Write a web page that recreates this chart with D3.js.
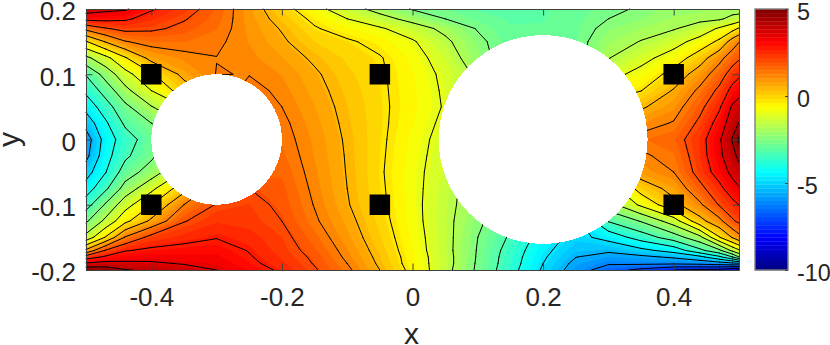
<!DOCTYPE html>
<html>
<head>
<meta charset="utf-8">
<script src="https://cdn.jsdelivr.net/npm/d3@7"></script>
<style>
  body { margin: 0; background: #fff; }
  text { font-family: "Liberation Sans", Arial, sans-serif; fill: #262626; }
</style>
</head>
<body>
<svg id="chart" width="830" height="345"></svg>
<script>
// --- Data ---
const xGrid = [-0.5, -0.47, -0.44, -0.4, -0.35, -0.3, -0.25, -0.2, -0.15, -0.1, -0.05, 0, 0.05, 0.1, 0.15, 0.2, 0.25, 0.3, 0.35, 0.4, 0.44, 0.47, 0.49, 0.5];
const yGrid = [0.2, 0.185, 0.17, 0.15, 0.125, 0.1, 0.075, 0.05, 0.025, 0, -0.025, -0.05, -0.075, -0.1, -0.125, -0.15, -0.17, -0.18, -0.19, -0.2];

// one row per yGrid entry, values under the two holes only keep the field continuous
const fieldRows = [
  [3.9, 3.7, 3.6, 2.82, 2.3, 1.68, 0.85, 0.05, -0.75, -1.43, -2, -2.55, -2.72, -3, -3.05, -3, -2.85, -2.65, -2.42, -2.15, -2.1, -2.05, -2.05, -2.1],
  [2.99, 2.97, 2.86, 2.47, 2.05, 1.6, 0.9, 0.25, -0.41, -1, -1.49, -1.99, -2.5, -2.8, -3, -2.98, -2.82, -2.5, -2.28, -2, -1.9, -1.85, -1.55, -1.42],
  [1.46, 1.94, 2.21, 2.12, 1.85, 1.5, 0.95, 0.45, -0.18, -0.58, -0.91, -1.4, -1.93, -2.55, -2.95, -2.95, -2.8, -2.31, -2.03, -1.8, -1.45, -0.9, -0.5, -0.16],
  [-0.31, 0.55, 1.21, 1.49, 1.5, 1.35, 1, 0.6, 0.08, -0.15, -0.47, -0.92, -1.6, -2.34, -2.9, -2.95, -2.75, -2.08, -1.72, -1.28, -0.72, -0.1, 0.84, 1.22],
  [-1.93, -1.22, -0.32, 0.73, 1.08, 1.24, 1.1, 0.8, 0.4, 0.02, -0.2, -0.71, -1.33, -2.21, -2.9, -3, -2.8, -1.78, -1.23, -0.67, 0.15, 1.03, 1.66, 1.91],
  [-3.2, -2.21, -1.27, -0.34, 0.69, 1.27, 1.23, 1, 0.59, 0.15, -0.16, -0.59, -1.16, -1.9, -2.9, -3, -3, -1.25, -0.77, 0.02, 0.87, 1.65, 2.35, 2.6],
  [-3.83, -2.94, -1.96, -1, 0.15, 0.9, 1.45, 1.12, 0.69, 0.25, -0.14, -0.56, -1.1, -2.1, -3, -3.3, -3, -0.55, -0.27, 0.56, 1.4, 2.17, 3, 3.25],
  [-4.5, -3.58, -2.68, -1.79, -1, 0.8, 1.6, 1.25, 0.79, 0.32, -0.12, -0.55, -1.06, -2.2, -3, -3.5, -3, 0, 0.4, 0.95, 1.8, 2.65, 3.6, 3.8],
  [-5.22, -4.12, -3.12, -2.5, -1.7, 0.9, 1.6, 1.37, 0.88, 0.37, -0.12, -0.6, -1.17, -2.2, -3, -3.7, -3.5, 0.5, 0.98, 1.3, 2.15, 3.05, 3.95, 4.28],
  [-5.9, -4.43, -3.6, -2.85, -2.5, 1, 1.6, 1.45, 0.96, 0.42, -0.13, -0.69, -1.28, -2.2, -3, -4, -4, 1, 1.45, 1.68, 2.45, 3.4, 4.3, 5.15],
  [-5.72, -4.28, -3.4, -2.65, -1.5, 1.2, 1.65, 1.55, 1, 0.45, -0.15, -0.74, -1.33, -2.2, -3, -3.7, -4.2, 0.7, 1.15, 1.45, 2.4, 3.34, 4, 4.45],
  [-5.08, -4.03, -2.89, -2.15, -0.9, 1.4, 1.7, 1.67, 1.06, 0.47, -0.17, -0.79, -1.37, -2.2, -3, -3.5, -4.3, 0.3, 0.85, 1.25, 2.27, 3.09, 3.7, 3.92],
  [-4.4, -3.39, -2.21, -1.2, 0.22, 1.75, 2, 1.8, 1.13, 0.5, -0.14, -0.78, -1.45, -2.2, -3, -3.6, -4.5, -1.44, 0.07, 0.75, 1.79, 2.54, 3.2, 3.44],
  [-3.58, -2.41, -1.3, -0.27, 1.25, 2.05, 2.2, 1.88, 1.22, 0.55, -0.1, -0.78, -1.51, -2.2, -3, -3.8, -4.7, -2.05, -0.86, 0.29, 1.12, 2.06, 2.5, 2.76],
  [-2.62, -1.56, -0.45, 0.65, 1.96, 2.39, 2.3, 2, 1.34, 0.7, -0.01, -0.75, -1.53, -2.35, -3.1, -4.1, -5, -3.2, -2.45, -1.37, 0.25, 1.04, 1.9, 2.15],
  [-1.49, -0.19, 1.31, 2.25, 2.53, 2.72, 2.55, 2.19, 1.58, 0.86, 0.11, -0.68, -1.5, -2.5, -3.35, -4.35, -5, -4.49, -3.66, -2.87, -1.97, -0.3, 0.55, 1],
  [0.65, 2.05, 2.7, 2.89, 2.98, 3.03, 2.72, 2.29, 1.78, 1.04, 0.24, -0.62, -1.5, -2.55, -3.55, -4.55, -5.26, -5.37, -4.95, -4.45, -3.44, -2.65, -1.55, -1.1],
  [2.37, 2.87, 3.16, 3.27, 3.21, 3.19, 2.8, 2.38, 1.89, 1.13, 0.32, -0.57, -1.46, -2.57, -3.62, -4.65, -5.48, -5.79, -5.66, -5.38, -4.94, -4.15, -3.25, -2.5],
  [3.6, 3.78, 3.66, 3.6, 3.45, 3.34, 2.9, 2.48, 1.96, 1.25, 0.39, -0.55, -1.45, -2.6, -3.65, -4.75, -5.7, -6.16, -6.1, -6.13, -6.02, -5.87, -5.7, -5.6],
  [4.8, 4.7, 4.3, 4.1, 3.8, 3.5, 3.09, 2.63, 2.07, 1.38, 0.5, -0.46, -1.5, -2.63, -3.72, -4.85, -5.86, -6.67, -7.2, -7.75, -7.9, -8, -8.3, -8.6]
];

const contourLevels = [-9.25, -8.5, -7.75, -7, -6.25, -5.5, -4.75, -4, -3.25, -2.5, -1.75, -1, -0.25, 0.5, 1.25, 2, 2.75, 3.5, 4.25, 5];

const holeX = [-0.3, 0.2];
const holeY = [0, 0];
const holeR = [0.1, 0.16];

const sensorX = [-0.4, -0.05, 0.4];
const sensorY = [0.1, -0.1];

const xTicks = [-0.4, -0.2, 0, 0.2, 0.4];
const yTicks = [-0.2, -0.1, 0, 0.1, 0.2];
const colorTicks = [-10, -5, 0, 5];
const colorDomain = [-10, 5];

// --- Scales ---
const svg = d3.select('#chart');
const plot = { left: 86, right: 739, top: 9, bottom: 270 };
const xScale = d3.scaleLinear().domain([-0.5, 0.5]).range([plot.left, plot.right]);
const yScale = d3.scaleLinear().domain([-0.2, 0.2]).range([plot.bottom, plot.top]);
const colorScale = d3.scaleLinear().domain(colorDomain).range([270, 9]);

// grid index -> data value, the grid is not evenly spaced
const xFromIndex = d3.scaleLinear().domain(d3.range(xGrid.length)).range(xGrid).clamp(true);
const yFromIndex = d3.scaleLinear().domain(d3.range(yGrid.length)).range(yGrid).clamp(true);

// MATLAB jet(64)
const bandCount = 64;
function jet(i) {
  const f = (i + 0.5) / bandCount;
  const c = v => Math.round(255 * Math.max(0, Math.min(1, v)));
  return `rgb(${c(Math.min(4 * f - 1.5, 4.5 - 4 * f))},${c(Math.min(4 * f - 0.5, 3.5 - 4 * f))},${c(Math.min(4 * f + 0.5, 2.5 - 4 * f))})`;
}
const bandEdges = d3.range(bandCount).map(k => colorDomain[0] + k * (colorDomain[1] - colorDomain[0]) / bandCount);

const project = c => [xScale(xFromIndex(c[0] - 0.5)), yScale(yFromIndex(c[1] - 0.5))];

// --- Contours ---
const values = fieldRows.flat();
const contours = d3.contours().size([xGrid.length, yGrid.length]);

const ringPath = ring => 'M' + ring.map(project).map(p => p.join(',')).join('L') + 'Z';
const fillPath = geo => geo.coordinates.map(poly => poly.map(ringPath).join('')).join('');

// outline of a level without the pieces that run along the plot border
function linePath(geo) {
  const onEdge = (a, b) =>
    (a[0] === plot.left && b[0] === plot.left) || (a[0] === plot.right && b[0] === plot.right) ||
    (a[1] === plot.top && b[1] === plot.top) || (a[1] === plot.bottom && b[1] === plot.bottom);
  let d = '';
  geo.coordinates.forEach(poly => poly.forEach(ring => {
    const pts = ring.map(project);
    for (let i = 1; i < pts.length; i++) {
      if (onEdge(pts[i - 1], pts[i])) continue;
      d += `M${pts[i - 1].join(',')}L${pts[i].join(',')}`;
    }
  }));
  return d;
}

svg.append('g').selectAll('path')
  .data(bandEdges.map((t, i) => ({ geo: contours.contour(values, t), i })))
  .join('path')
  .attr('d', d => fillPath(d.geo))
  .attr('fill', d => jet(d.i));

svg.append('g').selectAll('path')
  .data(contourLevels.map(t => contours.contour(values, t)))
  .join('path')
  .attr('d', linePath)
  .attr('fill', 'none')
  .attr('stroke', '#000')
  .attr('stroke-width', 1)
  .attr('stroke-linecap', 'round');

// --- Holes and sensors ---
svg.append('g').selectAll('ellipse')
  .data(holeX.map((x, i) => ({ x, y: holeY[i], r: holeR[i] })))
  .join('ellipse')
  .attr('cx', d => xScale(d.x))
  .attr('cy', d => yScale(d.y))
  .attr('rx', d => xScale(d.r) - xScale(0))
  .attr('ry', d => yScale(0) - yScale(d.r))
  .attr('fill', '#fff')
  .attr('shape-rendering', 'crispEdges');

const square = d3.symbol(d3.symbolSquare, 20.5 * 20.5);
svg.append('g').selectAll('path')
  .data(d3.cross(sensorX, sensorY))
  .join('path')
  .attr('d', square)
  .attr('transform', d => `translate(${xScale(d[0])},${yScale(d[1])})`)
  .attr('fill', '#000');

// --- Axes ---
const tickText = d => String(d);
const styleAxis = (g, size, dy) => {
  g.attr('font-family', null);
  g.selectAll('path.domain').attr('stroke', '#404040');
  g.selectAll('line').attr('stroke', '#404040');
  const labels = g.selectAll('text').attr('font-size', size).attr('fill', '#262626');
  if (dy) labels.attr('dy', dy);
};

svg.append('g').attr('transform', `translate(0,${plot.bottom})`)
  .call(d3.axisBottom(xScale).tickValues(xTicks).tickSizeInner(-6.5).tickSizeOuter(0).tickPadding(17.5).tickFormat(tickText))
  .call(styleAxis, 26);
svg.append('g').attr('transform', `translate(0,${plot.top})`)
  .call(d3.axisTop(xScale).tickValues(xTicks).tickSizeInner(-6.5).tickSizeOuter(0).tickFormat(''))
  .call(styleAxis, 26);
svg.append('g').attr('transform', `translate(${plot.left},0)`)
  .call(d3.axisLeft(yScale).tickValues(yTicks).tickSizeInner(-6.5).tickSizeOuter(0).tickPadding(10).tickFormat(tickText))
  .call(styleAxis, 26, '0.415em');
svg.append('g').attr('transform', `translate(${plot.right},0)`)
  .call(d3.axisRight(yScale).tickValues(yTicks).tickSizeInner(-6.5).tickSizeOuter(0).tickFormat(''))
  .call(styleAxis, 26);

svg.append('text').attr('x', (plot.left + plot.right) / 2 - 1).attr('y', 344)
  .attr('text-anchor', 'middle').attr('font-size', 30).text('x');
svg.append('text').attr('transform', `translate(19,${(plot.top + plot.bottom) / 2}) rotate(-90)`)
  .attr('text-anchor', 'middle').attr('font-size', 30).text('y');

// --- Colorbar ---
const bar = { left: 755, right: 788 };
svg.append('g').selectAll('rect')
  .data(bandEdges)
  .join('rect')
  .attr('x', bar.left)
  .attr('width', bar.right - bar.left)
  .attr('y', d => colorScale(d + (colorDomain[1] - colorDomain[0]) / bandCount))
  .attr('height', 261 / bandCount + 0.3)
  .attr('fill', (d, i) => jet(i));

svg.append('rect')
  .attr('x', bar.left).attr('y', 9)
  .attr('width', bar.right - bar.left).attr('height', 261)
  .attr('fill', 'none').attr('stroke', '#7f7f7f').attr('stroke-width', 1.4);

svg.append('g').attr('transform', `translate(${bar.right},0)`)
  .call(d3.axisRight(colorScale).tickValues(colorTicks).tickSizeInner(-3).tickSizeOuter(0).tickPadding(9).tickFormat(tickText))
  .call(styleAxis, 23.4, '0.44em')
  .call(g => g.select('path.domain').attr('stroke', 'none'));
</script>
</body>
</html>
